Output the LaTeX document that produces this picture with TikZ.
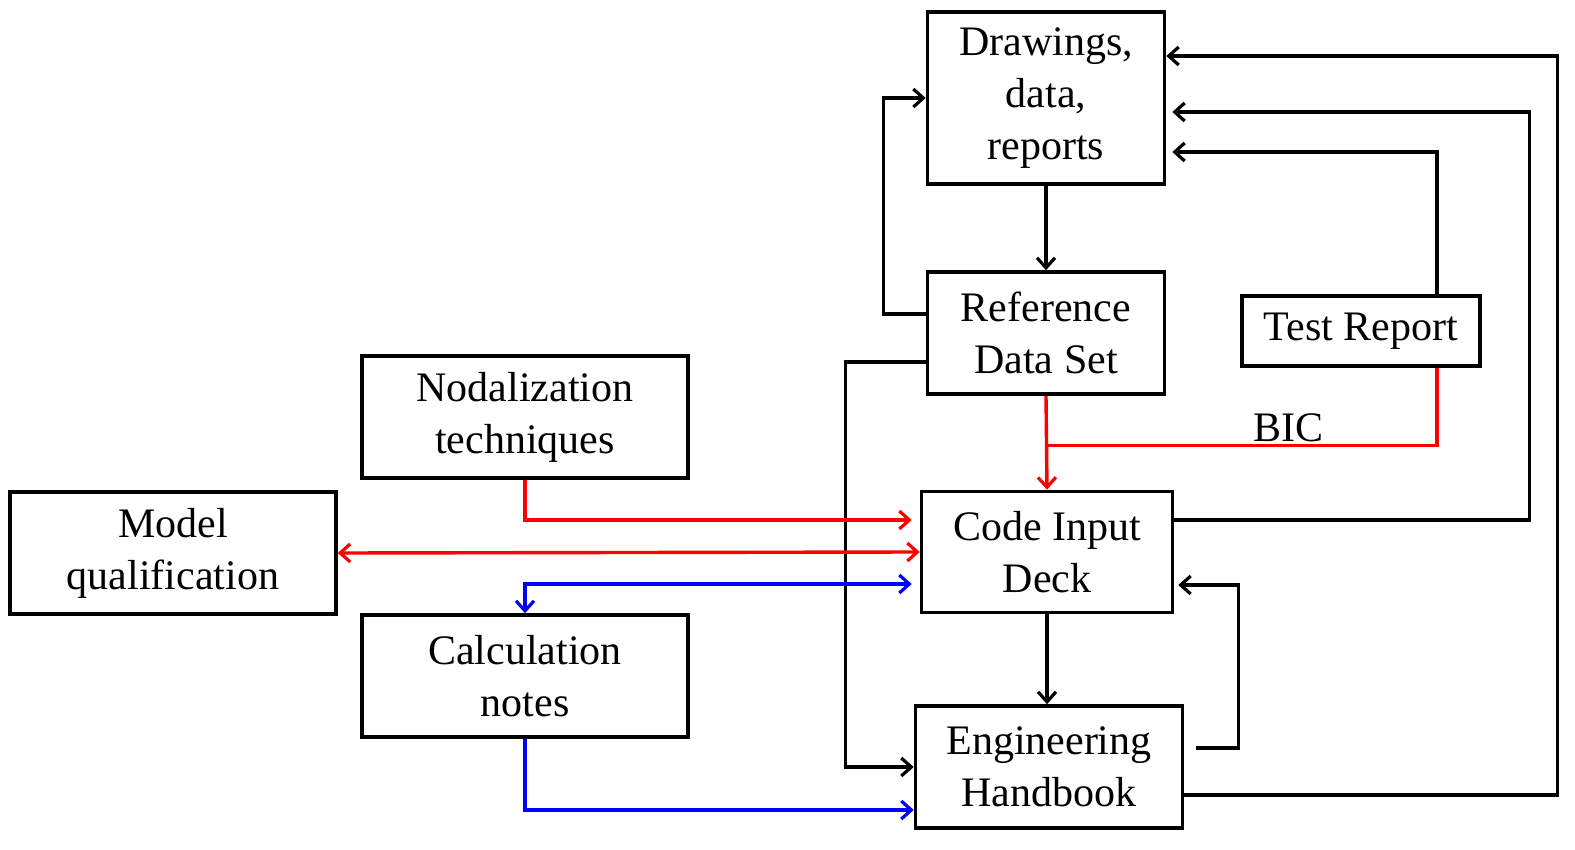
\documentclass[tikz,border=0pt]{standalone}
\usepackage{fontspec}
\setmainfont{Liberation Serif}
\usepackage{tikz}
\usetikzlibrary{arrows.meta,positioning,calc}

\begin{document}
\begin{tikzpicture}[
            x=0.5pt, y=-0.5pt,
            >={Straight Barb[length=5pt,width=9pt,line width=1.6pt]},
            box/.style={draw, rectangle, line width=1.8pt, align=center, inner sep=2pt,
                font=\fontsize{21}{26}\selectfont, minimum height=61pt},
            link/.style={line width=1.7pt}
        ]
            \useasboundingbox (0,0) rectangle (1575,850);

            \node[box, minimum width=118.5pt, minimum height=86pt] (drawings) at (1046,98) {Drawings,\\data,\\reports};
            \node[box, minimum width=118.5pt] (refdata) at (1046,333) {Reference\\Data Set};
            \node[box, minimum width=119pt, minimum height=35pt] (test) at (1361,331) {Test Report};
            \node[box, minimum width=163pt] (nodal) at (525,417) {Nodalization\\techniques};
            \node[box, minimum width=163pt] (model) at (173,553) {Model\\qualification};
            \node[box, minimum width=125.5pt, minimum height=60.5pt] (deck) at (1047,552) {Code Input\\Deck};
            \node[box, minimum width=163pt] (calc) at (525,676) {Calculation\\notes};
            \node[box, minimum width=133.5pt] (handbook) at (1049,767) {Engineering\\Handbook};

            % black links
            \draw[link, ->] (drawings) -- (refdata);
            \draw[link, ->] ([yshift=9.5pt]refdata.west) -- ++(-42,0) |- (drawings.west);
            \draw[link, ->] ([yshift=-14.5pt]refdata.west) -- ++(-80,0) |- (handbook.west);
            \draw[link, ->] ([xshift=38pt]test.north) |- ([xshift=3pt,yshift=-27pt]drawings.east);
            \draw[link, ->] ([yshift=16pt]deck.east) -- ++(355,0) |- ([xshift=3pt,yshift=-7pt]drawings.east);
            \draw[link, ->] ([yshift=-14pt]handbook.east) -- ++(373,0) |- ([yshift=21pt]drawings.east);
            \draw[link, ->] ([xshift=6pt,yshift=9.5pt]handbook.east) -- ++(42,0) |- ([xshift=2pt,yshift=-16.5pt]deck.east);
            \draw[link, ->] (deck.south) -- (deck.south |- handbook.north);

            % red links
            \draw[link, red, ->] (refdata.south) -- (deck.north);
            \draw[link, red] ([xshift=38pt]test.south) |- ($(refdata.south)!0.53!(deck.north)$)
                node[pos=0.69, above, inner sep=1pt, font=\fontsize{21}{26}\selectfont, text=black] {BIC};
            \draw[link, red, ->] (nodal.south) |- ([xshift=-4pt,yshift=16pt]deck.west);
            \draw[link, red, <->] (model.east) -- (deck.west);

            % blue links
            \draw[link, blue, <->] (calc.north) |- ([xshift=-4pt,yshift=-16pt]deck.west);
            \draw[link, blue, ->] (calc.south) |- ([yshift=-21.5pt]handbook.west);
        \end{tikzpicture}
\end{document}
